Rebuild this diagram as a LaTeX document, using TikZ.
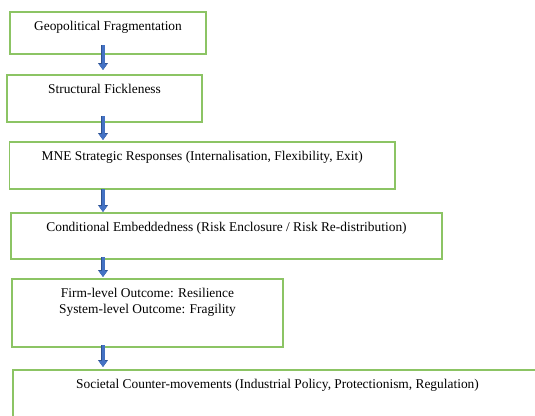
\documentclass[tikz,border=0pt]{standalone}
\usepackage{fontspec}
\setmainfont{Liberation Serif}
\usetikzlibrary{arrows.meta}
\definecolor{stageGreen}{RGB}{140,196,100}
\definecolor{arrowBlue}{RGB}{68,114,196}
\definecolor{arrowEdge}{RGB}{47,82,143}
\newcommand{\stageText}[3]{%
  % #1 width of the box
  % #2 height of the box
  % #3 the text, set at the top of the box
  \parbox[c][#2][t]{#1}{\centering\rule{0pt}{18pt}#3}%
}

\begin{document}
\begin{tikzpicture}[x=1pt,y=-1pt,
    stage/.style={draw=stageGreen,line width=1.3pt,inner sep=0pt,outer sep=0pt,
      anchor=north west,font=\fontsize{13.4}{16}\selectfont},
    flow/.style={arrowBlue,line width=3pt,-{Triangle[width=8pt,length=6pt]},
      preaction={draw=arrowEdge,line width=4.2pt,-{Triangle[width=9.6pt,length=7pt]}}}]
  \clip (0,0) rectangle (535,415);
  \node[stage] (geo) at (10,12) {\stageText{196pt}{42pt}{Geopolitical Fragmentation}};
  \node[stage] (fickle) at (7,75) {\stageText{195pt}{47pt}{Structural Fickleness}};
  \node[stage] (responses) at (9.5,142) {\stageText{385.5pt}{47pt}{MNE Strategic Responses (Internalisation, Flexibility, Exit)}};
  \node[stage] (embed) at (11,213) {\stageText{431pt}{46pt}{Conditional Embeddedness (Risk Enclosure / Risk Re-distribution)}};
  \node[stage] (outcome) at (12,279) {\stageText{271pt}{68pt}{Firm-level Outcome: Resilience\\System-level Outcome: Fragility}};
  \node[stage] (counter) at (13,370) {\stageText{529pt}{60pt}{Societal Counter-movements (Industrial Policy, Protectionism, Regulation)}};
  % arrows down the left side
  \coordinate (spine) at (103,0);
  \draw[flow] ([yshift=9pt]geo.south -| spine) -- ([yshift=5pt]fickle.north -| spine);
  \draw[flow] ([yshift=6pt]fickle.south -| spine) -- ([yshift=2pt]responses.north -| spine);
  \draw[flow] (responses.south -| spine) -- ([yshift=1pt]embed.north -| spine);
  \draw[flow] ([yshift=2pt]embed.south -| spine) -- ([yshift=2pt]outcome.north -| spine);
  \draw[flow] ([yshift=2pt]outcome.south -| spine) -- ([yshift=3pt]counter.north -| spine);
\end{tikzpicture}
\end{document}
